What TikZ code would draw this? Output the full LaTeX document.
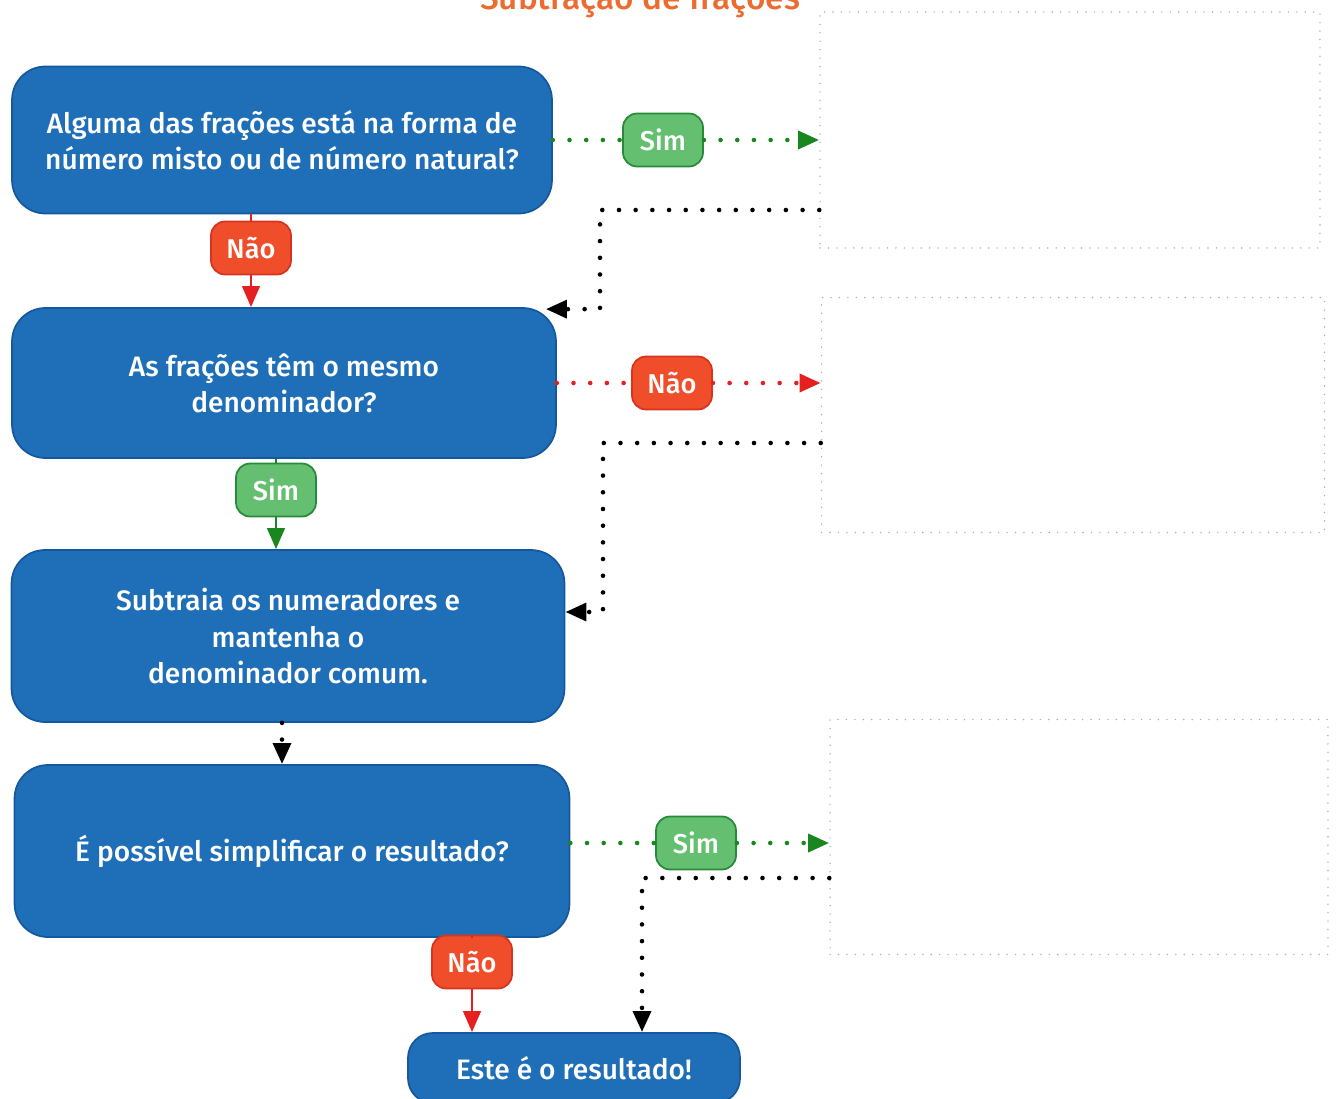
\documentclass[tikz,border=0pt]{standalone}
\usepackage{fontspec}
\setmainfont{Fira Sans}[BoldFont={* Medium}]
\usepackage{tikz}
\usetikzlibrary{calc}
\usetikzlibrary{arrows.meta}

\definecolor{azulcaixa}{RGB}{31,111,184}
\definecolor{azulborda}{RGB}{22,88,158}
\definecolor{verdesim}{RGB}{100,192,112}
\definecolor{verdeborda}{RGB}{38,138,58}
\definecolor{verdeseta}{RGB}{25,135,30}
\definecolor{vermelhonao}{RGB}{240,78,42}
\definecolor{vermelhoborda}{RGB}{214,52,30}
\definecolor{vermelhoseta}{RGB}{228,32,32}
\definecolor{laranja}{RGB}{236,108,48}

\tikzset{
  caixa/.style={rectangle, rounded corners=19pt, fill=azulcaixa, draw=azulborda, line width=1pt,
    text=white, align=center, font=\fontsize{16}{20.5}\bfseries},
  rotulo/.style={rectangle, rounded corners=8pt, line width=1pt, text=white,
    minimum width=1.6cm, minimum height=1.06cm, font=\fontsize{15.5}{18}\bfseries},
  sim/.style={rotulo, fill=verdesim, draw=verdeborda},
  nao/.style={rotulo, fill=vermelhonao, draw=vermelhoborda},
  resposta/.style={rectangle, draw=gray!65, line width=0.9pt, line cap=round, dash pattern=on 0pt off 4.8pt},
  pontilhado/.style={line width=2.6pt, line cap=round, dash pattern=on 0pt off 9.5pt},
  seta/.style={-{Triangle[length=12pt,width=10pt]}},
  direto/.style={line width=1.5pt}
}

\begin{document}
\begin{tikzpicture}[x=0.02cm, y=-0.02cm]
  \useasboundingbox (0,0) rectangle (1341,1098);
  \node[anchor=base, text=laranja, font=\fontsize{19}{22}\bfseries] (titulo) at (640,10) {Subtração de frações}; % titulo cortado

  % caixas azuis
  \node[caixa, minimum width=10.8cm, minimum height=2.94cm] (pergunta1) at (282,140)
    {Alguma das frações está na forma de\\número misto ou de número natural?};
  \node[caixa, minimum width=10.88cm, minimum height=3cm] (pergunta2) at (284,383)
    {As frações têm o mesmo\\denominador?};
  \node[caixa, minimum width=11.06cm, minimum height=3.44cm] (subtraia) at (288,636)
    {Subtraia os numeradores e\\mantenha o\\denominador comum.};
  \node[caixa, minimum width=11.1cm, minimum height=3.44cm] (pergunta3) at (292,851)
    {É possível simplificar o resultado?};
  \node[caixa, rounded corners=14pt, minimum width=6.64cm, minimum height=1.4cm] (resultado) at (574,1068)
    {Este é o resultado!};

  % caixas de resposta
  \node[resposta, minimum width=10cm, minimum height=4.72cm] (resp1) at (1070,130) {};
  \node[resposta, minimum width=10.06cm, minimum height=4.7cm] (resp2) at (1073,415) {};
  \node[resposta, minimum width=9.96cm, minimum height=4.7cm] (resp3) at (1079,837) {};

  % rotulos
  \node[sim] (sim1) at (663,140) {Sim};
  \node[nao] (nao1) at (251,248) {Não};
  \node[nao] (nao2) at (672,383) {Não};
  \node[sim] (sim2) at (276,490) {Sim};
  \node[sim] (sim3) at (696,843) {Sim};
  \node[nao] (nao3) at (472,962) {Não};

  \coordinate (volta1) at (600,210);
  \coordinate (volta2) at (603,443);
  \coordinate (volta3) at (642,878);

  % pergunta 1
  \draw[pontilhado, verdeseta] (pergunta1.east |- sim1) -- (sim1);
  \draw[pontilhado, verdeseta, seta] (sim1) -- (resp1.west |- sim1);
  \draw[pontilhado, seta] (resp1.west |- volta1) -- (volta1) |- ($(pergunta2.north east)+(-11,2)$);
  \draw[direto, vermelhoseta] (pergunta1.south -| nao1) -- (nao1);
  \draw[direto, vermelhoseta, seta] (nao1) -- (pergunta2.north -| nao1);

  % pergunta 2
  \draw[pontilhado, vermelhoseta] (pergunta2.east |- nao2) -- (nao2);
  \draw[pontilhado, vermelhoseta, seta] (nao2) -- (resp2.west |- nao2);
  \draw[pontilhado, seta] (resp2.west |- volta2) -- (volta2) |- ($(subtraia.east)+(0,-24)$);
  \draw[direto, verdeseta] (pergunta2.south -| sim2) -- (sim2);
  \draw[direto, verdeseta, seta] (sim2) -- (subtraia.north -| sim2);

  % subtraia
  \draw[pontilhado, seta] (subtraia.south -| 282,0) -- (pergunta3.north -| 282,0);

  % pergunta 3
  \draw[pontilhado, verdeseta] (pergunta3.east |- sim3) -- (sim3);
  \draw[pontilhado, verdeseta, seta] (sim3) -- (resp3.west |- sim3);
  \draw[pontilhado, seta] (resp3.west |- volta3) -- (volta3) -- (volta3 |- resultado.north);
  \draw[direto, vermelhoseta] (pergunta3.south -| nao3) -- (nao3);
  \draw[direto, vermelhoseta, seta] (nao3) -- (resultado.north -| nao3);
\end{tikzpicture}
\end{document}
